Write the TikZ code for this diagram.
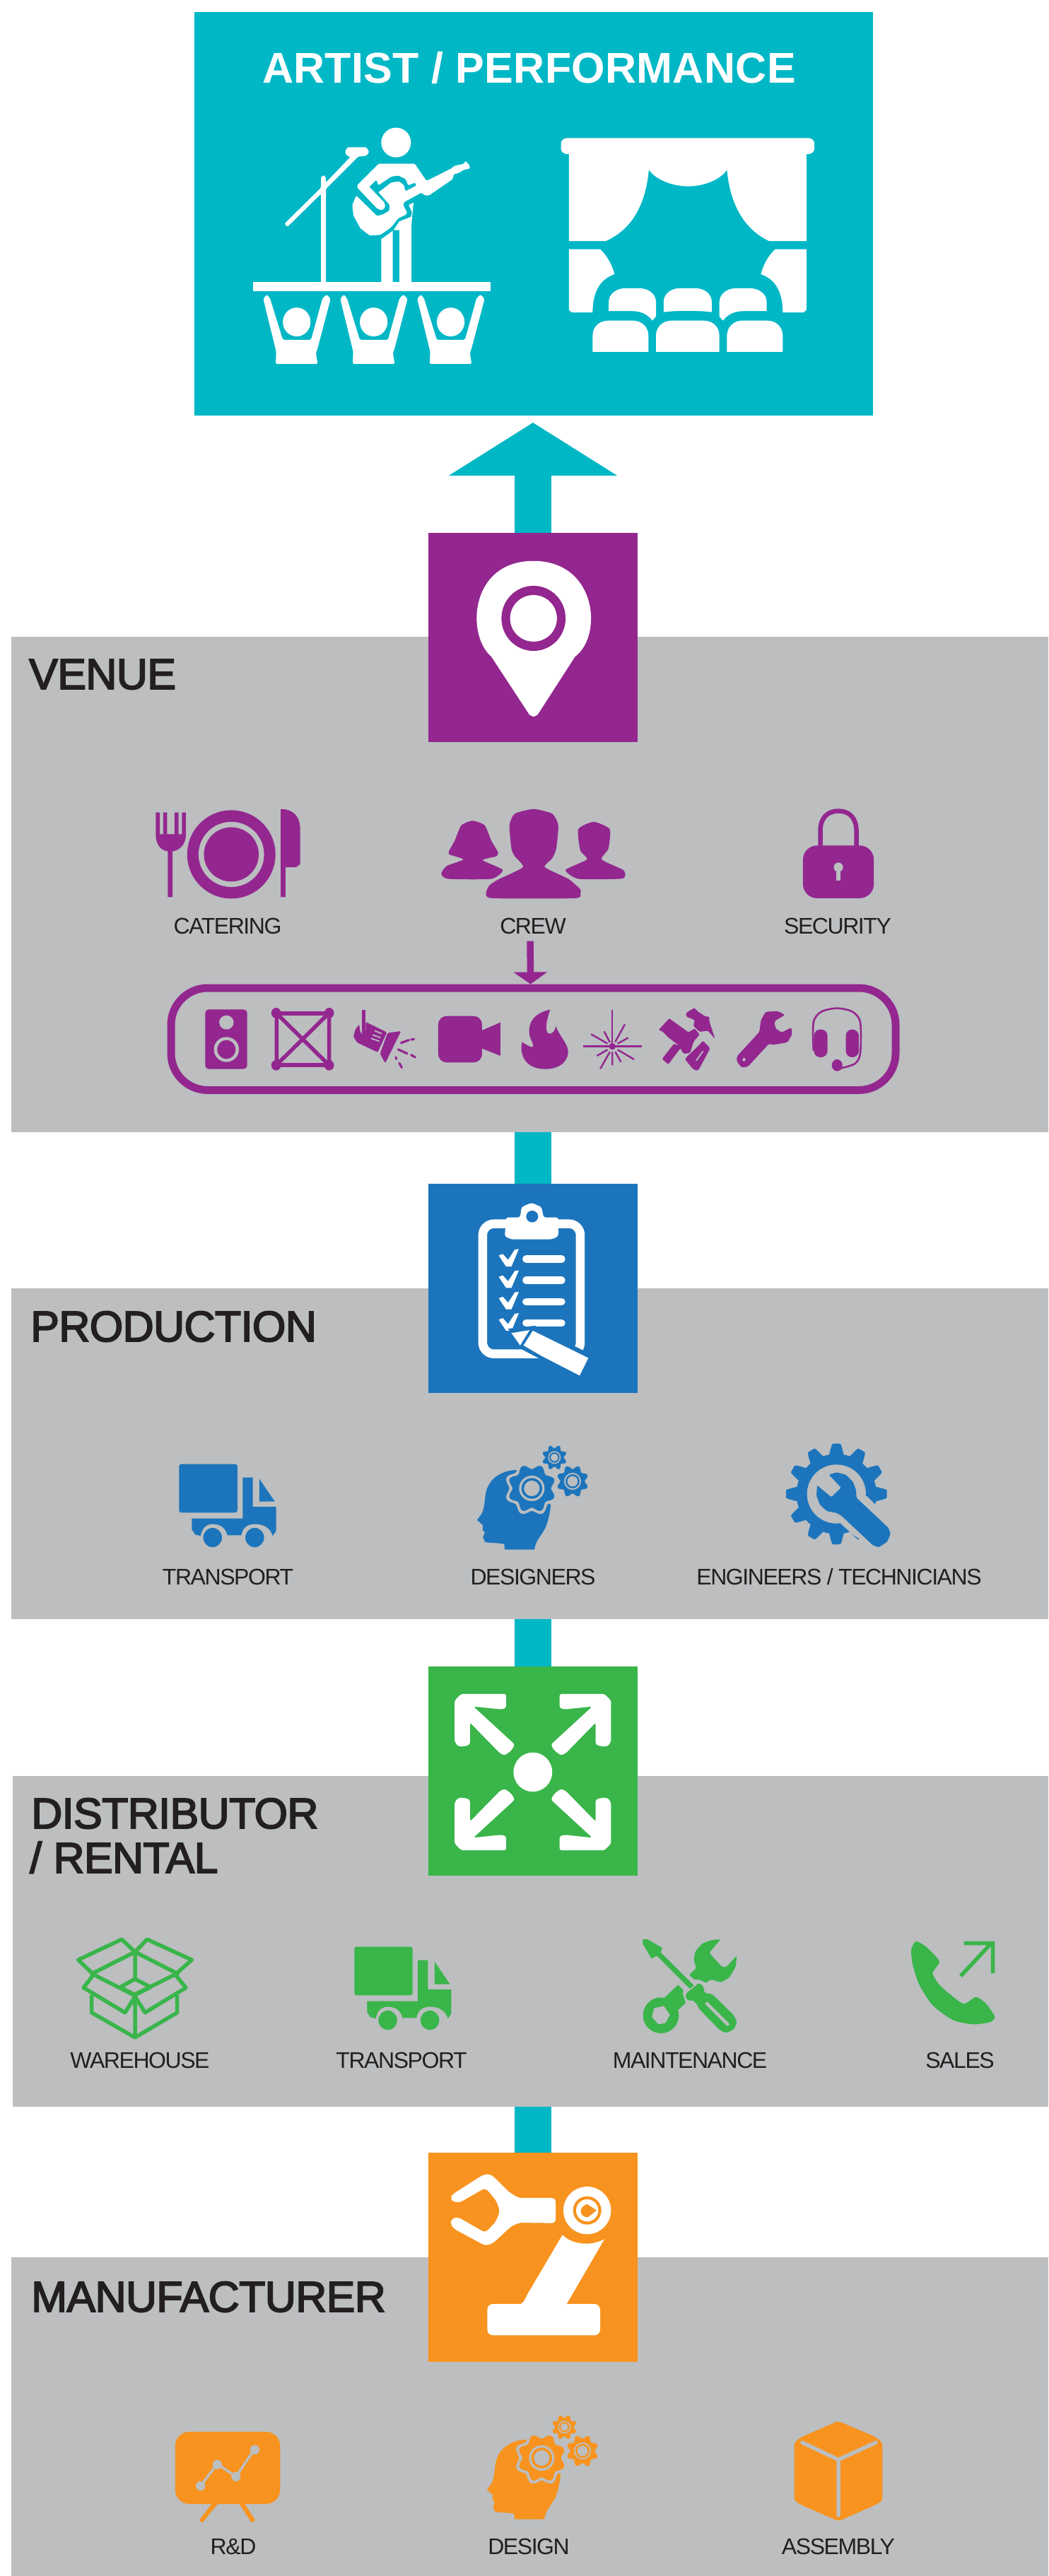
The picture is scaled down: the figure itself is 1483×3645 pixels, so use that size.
\documentclass[tikz,border=0pt]{standalone}
\usepackage{fontspec}
\usetikzlibrary{arrows.meta}
\setmainfont{Liberation Sans}
\newfontfamily\titlefont[LetterSpace=0.55]{Liberation Sans Bold}
\newfontfamily\headfont[LetterSpace=-1,FakeBold=3]{Liberation Sans}
\newfontfamily\labfont[LetterSpace=-4.5]{Liberation Sans}
\definecolor{teal}{HTML}{00B7C6}
\definecolor{purp}{HTML}{93278F}
\definecolor{blu}{HTML}{1C75BC}
\definecolor{grn}{HTML}{39B54A}
\definecolor{org}{HTML}{F7931E}
\definecolor{panel}{HTML}{BCBEC0}
\definecolor{ink}{HTML}{231F20}
\tikzset{
  panelbox/.style={fill=panel,inner sep=0pt,outer sep=0pt,minimum width=1467pt},
  keybox/.style={fill=#1,inner sep=0pt,outer sep=0pt,minimum width=296pt,minimum height=296pt},
  conn/.style={draw=teal,line width=52pt},
  headtxt/.style={font=\headfont\fontsize{61}{61}\selectfont,text=ink,anchor=base west,inner sep=0pt},
  labtxt/.style={font=\labfont\fontsize{32}{32}\selectfont,text=ink,anchor=base,inner sep=0pt},
  z1/.style={shift={(260,0)},xscale=.6314,yscale=.4974},
  z2/.style={shift={(0,740)},xscale=.9458,yscale=.5485},
  z3/.style={shift={(0,1650)},xscale=.9458,yscale=.4145},
  z4/.style={shift={(0,2340)},xscale=.9458,yscale=.4145},
  z5/.style={shift={(0,3020)},xscale=.9458,yscale=.3986},
  z6/.style={shift={(220,1380)},xscale=.6824,yscale=.3333},
  third/.style={shift={#1},scale=.33333},
}
% gear outline as polar plot: cx cy R0 A teeth phase colour sharpness
\newcommand\wavegear[8]{%
  \fill[#7] plot[domain=0:360,samples=241,variable=\t]
   ({#1+(#3+#4*max(-1,min(1,#8*cos(#5*(\t-#6)))))*cos(\t)},{#2+(#3+#4*max(-1,min(1,#8*cos(#5*(\t-#6)))))*sin(\t)}) -- cycle;}
\newcommand\headicon[3]{%
  \begin{scope}[third={(660+#1,2030+#2)}]
  \fill[#3] (210,150) .. controls (150,152) and (100,185) .. (85,235) .. controls (75,270) and (80,300) .. (65,335) -- (45,362) -- (70,385) -- (68,405) -- (78,415) -- (70,435) -- (78,455) .. controls (100,462) and (140,458) .. (160,465) -- (162,488) -- (288,488) .. controls (292,450) and (320,425) .. (335,395) .. controls (348,360) and (355,330) .. (357,298) -- (277,228) -- cycle;
  \wavegear{277}{228}{106}{10}{8}{22.5}{panel}{1}
  \wavegear{277}{228}{92}{10}{8}{22.5}{#3}{1}
  \fill[panel] (277,228) circle [radius=54];
  \fill[#3] (277,228) circle [radius=44];
  \fill[panel] (277,228) circle [radius=33];
  \wavegear{373}{97}{46}{7}{8}{22.5}{#3}{1}
  \fill[panel] (373,97) circle [radius=27];
  \fill[#3] (373,97) circle [radius=22];
  \fill[panel] (373,97) circle [radius=16];
  \wavegear{450}{198}{60}{8}{8}{22.5}{#3}{1}
  \fill[panel] (450,198) circle [radius=36];
  \fill[#3] (450,198) circle [radius=30];
  \fill[panel] (450,198) circle [radius=22];
  \end{scope}}
\newcommand\truckicon[3]{%
  \begin{scope}[shift={(#1,#2)}]
  \fill[#3,rounded corners=3pt] (268,1017) rectangle (355,1183);
  \fill[#3] (388,1068) -- (411,1145) -- (388,1145) -- cycle;
  \fill[#3] (287,1203) -- (363,1203) -- (363,1063) -- (378,1063) -- (378,1163) -- (413,1163) -- (413,1245) -- (408,1262)
     .. controls (404,1235) and (395,1222) .. (381,1222) .. controls (368,1222) and (362,1240) .. (361,1260) -- (340,1260)
     .. controls (338,1240) and (332,1222) .. (318,1222) .. controls (305,1222) and (302,1245) .. (300,1262) -- (292,1258) -- (287,1240) -- cycle;
  \fill[#3] (318,1268) ellipse [x radius=14, y radius=33];
  \fill[#3] (381,1268) ellipse [x radius=14, y radius=33];
  \end{scope}}
\begin{document}
\begin{tikzpicture}[x=1pt,y=-1pt]
\useasboundingbox (0,0) rectangle (1483,3645);
\fill[white] (0,0) rectangle (1483,3645);
% panels
\node[panelbox,minimum height=701pt] (venuepanel) at (749.5,1251.5) {};
\node[panelbox,minimum height=468.5pt] (prodpanel) at (749.5,2056.75) {};
\node[panelbox,minimum height=468.5pt,minimum width=1465pt] (distpanel) at (750.5,2746.75) {};
\node[panelbox,minimum height=451pt] (mfrpanel) at (749.5,3419.5) {};
% top box
\node[fill=teal,inner sep=0pt,outer sep=0pt,minimum width=960pt,minimum height=571pt] (artist) at (755,302.5) {};
% key boxes
\node[keybox=purp] (venuebox) at (754,902) {};
\node[keybox=blu] (prodbox) at (754,1822.5) {};
\node[keybox=grn] (distbox) at (754,2505.5) {};
\node[keybox=org] (mfrbox) at (754,3193.5) {};
% connectors
\draw[conn,shorten >=10pt,-{Triangle[width=235pt,length=75pt]}] (venuebox.north) -- (venuebox.north |- artist.south);
\draw[conn] (prodbox.north) -- (prodbox.north |- venuepanel.south);
\draw[conn] (distbox.north) -- (distbox.north |- prodpanel.south);
\draw[conn] (mfrbox.north) -- (mfrbox.north |- distpanel.south);
% texts
\node[font=\titlefont\fontsize{61}{61}\selectfont,text=white,anchor=base,inner sep=0pt] (titletxt) at (748.5,118) {ARTIST / PERFORMANCE};
\node[headtxt] (hvenue) at (41,975) {VENUE};
\node[headtxt] (hprod) at (43,1898) {PRODUCTION};
\node[headtxt] (hdist) at (44,2587) {DISTRIBUTOR};
\node[headtxt] (hrent) at (42,2650) {/ RENTAL};
\node[headtxt] (hmfr) at (44,3271) {MANUFACTURER};
\node[labtxt] (lcater) at (322,1321) {CATERING};
\node[labtxt] (lcrew) at (754,1321) {CREW};
\node[labtxt] (lsec) at (1185,1321) {SECURITY};
\node[labtxt] (ltrans) at (322.5,2242) {TRANSPORT};
\node[labtxt] (ldesr) at (754,2242) {DESIGNERS};
\node[labtxt] (leng) at (1187,2242) {ENGINEERS / TECHNICIANS};
\node[labtxt] (lware) at (198,2926) {WAREHOUSE};
\node[labtxt] (ltrans2) at (568,2926) {TRANSPORT};
\node[labtxt] (lmaint) at (976,2926) {MAINTENANCE};
\node[labtxt] (lsales) at (1358,2926) {SALES};
\node[labtxt] (lrd) at (330,3614) {R\&D};
\node[labtxt] (ldesign) at (748,3614) {DESIGN};
\node[labtxt] (lassy) at (1186,3614) {ASSEMBLY};
% crew capsule and arrow
\node[draw=purp,line width=11pt,rounded corners=52pt,inner sep=0pt,outer sep=0pt,minimum width=1025pt,minimum height=144.5pt] (capsule) at (754.5,1470.25) {};
\coordinate (capin) at ([yshift=5.5pt]capsule.north);
\draw[purp,line width=9.5pt,shorten <=10pt,-{Triangle[width=47pt,length=17pt]}] ([xshift=-4pt]lcrew.south) -- ([xshift=-4pt]capin);

% ---------- artist icons
\begin{scope}[third={(390,175)}]
\fill[white] (511,80) circle [radius=63];
\fill[white,rounded corners=1.5pt] (37,425)--(192,272)--(192,228)--(202,218)--(213,228)--(213,250)--(318,140)--(303,137)--(294,120)--(305,100)--(385,100)--(397,120)--(385,136)--(350,140)--(213,277)--(213,675)--(192,675)--(192,298)--(50,438)--cycle;
\fill[white,rounded corners=1.5pt] (437,170)--(590,170)--(640,243)--(750,188)--(755,180)--(800,170)--(805,157)--(825,180)--(822,192)--(800,195)--(775,210)--(755,215)--(752,235)--(650,305)--(635,305)--(618,293)--(545,333)--(541,345)--(558,378)--(555,385)--(520,402)--(490,440)--(445,472)--(400,475)--(360,445)--(330,390)--(325,345)--(342,305)--(430,392)--(455,385)--(482,370)--(484,345)--(435,290)--(445,285)--(490,250)--(525,245)--(545,262)--(550,287)--(598,262)--(592,250)--(562,262)--(552,235)--(520,220)--(490,225)--(435,262)--(428,238)--(397,268)--(462,335)--(465,355)--(450,368)--(430,360)--(347,272)--(345,262)--cycle;
\fill[white] (448,675)--(448,490)--(497,455)--(497,675)--cycle;
\fill[white] (500,452)--(525,452)--(525,675)--(576,675)--(576,430)--(585,335)--(565,345)--(578,375)--(575,395)--(525,415)--cycle;
\end{scope}
\begin{scope}[z1]
\fill[white] (155,802) rectangle (687,829);
\foreach \dx in {0,172.5,345}{
  \fill[white,rounded corners=2pt] ({178+\dx},850)--({186+\dx},838)--({193+\dx},848)--({222+\dx},967)--({285+\dx},967)--({311+\dx},848)--({320+\dx},838)--({329+\dx},850)--({300+\dx},990)--({296+\dx},1005)--({300+\dx},1035)--({206+\dx},1035)--({207+\dx},1000)--cycle;
  \fill[white] ({253+\dx},916) ellipse [x radius=31, y radius=41];
}
% theatre
\fill[white,rounded corners=8pt] (845,393) rectangle (1413,438);
\fill[white] (863,430)--(1395,430)--(1395,686)--(1312,686) .. controls (1260,655) and (1225,590) .. (1217,483) .. controls (1200,515) and (1160,530) .. (1130,530) .. controls (1100,530) and (1060,515) .. (1042,483) .. controls (1034,590) and (1000,655) .. (945,686) -- (863,686) -- cycle;
\fill[white] (863,709)--(933,709) .. controls (950,730) and (960,755) .. (965,780) .. controls (930,795) and (916,835) .. (916,889) -- (870,889) -- (863,882) -- cycle;
\fill[white] (1395,709)--(1325,709) .. controls (1308,730) and (1298,755) .. (1293,780) .. controls (1328,795) and (1342,835) .. (1342,889) -- (1388,889) -- (1395,882) -- cycle;
\fill[white] (952,885)--(952,860) .. controls (952,835) and (970,820) .. (990,820) -- (1020,820) .. controls (1040,820) and (1058,835) .. (1058,860) -- (1058,900) -- (1050,912) .. controls (1040,895) and (1025,885) .. (1005,885) -- cycle;
\fill[white] (1075,888)--(1075,860) .. controls (1075,835) and (1092,820) .. (1112,820) -- (1146,820) .. controls (1166,820) and (1183,835) .. (1183,860) -- (1183,888) .. controls (1160,883) and (1098,883) .. (1075,888) -- cycle;
\fill[white] (1306,885)--(1306,860) .. controls (1306,835) and (1288,820) .. (1268,820) -- (1238,820) .. controls (1218,820) and (1200,835) .. (1200,860) -- (1200,900) -- (1208,912) .. controls (1218,895) and (1233,885) .. (1253,885) -- cycle;
\foreach \xa/\xb in {916/1041,1058/1200,1217/1342}{
  \fill[white] (\xa,1001)--(\xa,955) .. controls (\xa,930) and ({\xa+15},912) .. ({\xa+35},912) -- ({\xb-35},912) .. controls ({\xb-15},912) and (\xb,930) .. (\xb,955) -- (\xb,1001) -- cycle;
}
\end{scope}

% ---------- venue icons
\begin{scope}[z2]
\fill[white] (798,98) .. controls (735,98) and (713,180) .. (713,245) .. controls (713,290) and (722,325) .. (735,345) -- (792,495) -- (798,500) -- (804,495) -- (860,345) .. controls (875,325) and (884,290) .. (884,245) .. controls (884,180) and (860,98) .. (798,98) -- cycle;
\fill[purp] (798,246) ellipse [x radius=48, y radius=84];
\fill[white] (798,246) ellipse [x radius=35, y radius=60];
% catering
\fill[purp] (233,747)--(239,747)--(239,803)--(244,803)--(244,747)--(250,747)--(250,803)--(261,803)--(261,747)--(267,747)--(267,803)--(272,803)--(272,747)--(278,747)--(278,805) .. controls (278,830) and (268,845) .. (258,847) -- (258,965) -- (251,965) -- (251,847) .. controls (241,845) and (233,830) .. (233,805) -- cycle;
\fill[purp] (346,855) ellipse [x radius=66, y radius=114];
\fill[panel] (346,855) ellipse [x radius=49, y radius=84];
\fill[purp] (346,855) ellipse [x radius=41, y radius=70];
\fill[purp] (420,738) .. controls (440,738) and (449,760) .. (449,790) -- (449,880) -- (443,888) -- (427,888) -- (427,965) -- (420,965) -- cycle;
% crew
\fill[purp] plot[smooth cycle,tension=.35] coordinates {(727,955)(732,935)(745,920)(782,888)(770,860)(765,840)(762,780)(770,750)(798,738)(826,750)(835,780)(832,840)(826,865)(815,888)(850,918)(868,945)(868,955)(860,968)(737,968)};
\fill[purp] plot[smooth cycle,tension=.35] coordinates {(660,905)(668,885)(693,868)(672,855)(672,845)(680,820)(690,780)(707,768)(725,780)(735,820)(745,850)(742,860)(722,870)(752,895)(735,918)(670,918)};
\fill[purp] plot[smooth cycle,tension=.35] coordinates {(846,895)(878,868)(868,845)(865,790)(888,771)(912,790)(910,840)(900,868)(932,895)(935,910)(928,918)(865,918)};
% lock
\draw[purp,line width=6.5pt] (1227,835) -- (1227,795) .. controls (1227,760) and (1238,743) .. (1254,743) .. controls (1270,743) and (1281,760) .. (1281,795) -- (1281,835);
\fill[purp,rounded corners=20pt] (1201,832) rectangle (1307,968);
\fill[panel] (1254,888) ellipse [x radius=7, y radius=12];
\fill[panel] (1251,893) rectangle (1257,922);
\end{scope}

% ---------- capsule icons
\begin{scope}[third={(490,1410)}]
\fill[purp,rounded corners=1.5pt] (82,108)--(172,152)--(133,237)--(45,195)--(30,170)--(38,140)--(55,118)--(58,150)--(68,160)--(82,150)--cycle;
\fill[purp] (67,57) rectangle (81,155);
\draw[panel,line width=1.7pt] (120,145)--(150,158) (112,163)--(145,175) (105,178)--(140,190);
\fill[purp,rounded corners=1.5pt] (175,155)--(232,147)--(165,283)--(143,243)--cycle;
\draw[purp,line width=3.2pt,line cap=round] (232,197)--(265,185) (275,183)--(287,181) (220,225)--(258,242) (275,248)--(292,258) (210,258)--(212,265) (225,283)--(235,302);
\end{scope}
\begin{scope}[z6]
\fill[purp,rounded corners=5pt] (103,145) rectangle (190,398);
\fill[panel] (147,200) ellipse [x radius=15, y radius=30];
\fill[panel] (147,315) ellipse [x radius=26, y radius=53];
\fill[purp] (147,315) ellipse [x radius=19, y radius=40];
% truss
\draw[purp,line width=6pt] (250,161) -- (360,161) (250,382) -- (360,382);
\draw[purp,line width=5.5pt] (251,160) -- (251,382) (360,160) -- (360,382) (255,170) -- (355,372) (355,170) -- (255,372);
\foreach \xx/\yy in {250/160,360/160,250/382,360/382}{\fill[purp] (\xx,\yy) ellipse [x radius=10, y radius=22];}
% camera
\fill[purp,rounded corners=12pt] (586,173) rectangle (677,370);
\fill[purp] (670,240)--(715,200)--(715,342)--(670,305)--cycle;
% flame
\fill[purp] (818,146) .. controls (785,160) and (772,200) .. (775,250) .. controls (777,275) and (785,290) .. (782,305) .. controls (775,305) and (765,290) .. (760,283) .. controls (755,320) and (760,398) .. (808,398) .. controls (845,398) and (858,350) .. (855,315) .. controls (852,285) and (835,250) .. (830,215) .. controls (828,240) and (820,255) .. (813,245) .. controls (805,220) and (815,170) .. (818,146) -- cycle;
% laser
\draw[purp,line width=1.8pt] (947,148)--(947,300);
\draw[purp,line width=3pt] (887,302)--(1008,302);
\fill[purp] (947,302) ellipse [x radius=7, y radius=14];
\draw[purp,line width=2.4pt] (903,250)--(937,290) (980,265)--(958,290) (915,342)--(937,316) (992,357)--(958,316) (973,208)--(953,283) (930,238)--(942,285) (922,397)--(942,325) (965,368)--(953,325) (947,325)--(947,382);
% tools
\fill[purp,rounded corners=1.5pt] (1043,232)--(1065,183)--(1105,242)--(1118,226)--(1128,252)--(1116,280)--(1108,330)--(1095,333)--(1083,295)--(1062,262)--(1052,240)--cycle;
\fill[purp,rounded corners=1.5pt] (1075,290)--(1090,305)--(1063,378)--(1050,355)--cycle;
\fill[purp,rounded corners=1.5pt] (1117,138)--(1125,155)--(1140,175)--(1148,175)--(1148,195)--(1160,270)--(1145,235)--(1128,240)--(1115,215)--(1118,190)--(1100,175)--(1100,160)--cycle;
\fill[purp,rounded corners=2pt] (1135,278)--(1150,310)--(1125,405)--(1115,400)--(1097,355)--(1125,300)--cycle;
\draw[panel,line width=1.8pt] (1135,322)--(1121,362);
% wrench
\fill[purp,rounded corners=2pt] (1252,240)--(1255,190)--(1265,155)--(1290,152)--(1305,168)--(1283,195)--(1285,225)--(1298,243)--(1318,222)--(1320,250)--(1310,285)--(1280,295)--(1272,290)--(1228,388)--(1215,392)--(1205,365)--(1205,345)--cycle;
\fill[panel] (1220,358) ellipse [x radius=3, y radius=7];
% headset
\draw[purp,line width=2.6pt] plot[smooth,tension=.5] coordinates {(1364,320)(1364,200)(1380,155)(1413,140)(1445,155)(1461,200)(1461,330)(1450,375)(1420,395)};
\fill[purp,rounded corners=9pt] (1365,230) rectangle (1393,348);
\fill[purp,rounded corners=9pt] (1431,230) rectangle (1458,348);
\fill[purp] (1413,382) ellipse [x radius=11, y radius=25];
\end{scope}

% ---------- production icons
\begin{scope}[z3]
\draw[white,line width=12.5pt,rounded corners=16pt] (722,197) rectangle (868,641);
\fill[white,rounded corners=3pt] (757,175)--(778,175)--(780,140)--(795,125)--(810,140)--(813,175)--(835,175)--(835,240)--(825,250)--(765,250)--(755,240)--cycle;
\fill[blu] (796,172) ellipse [x radius=9, y radius=20];
\foreach \dy in {0,73,146,219}{
  \draw[white,line width=10.5pt,line cap=round] (787,{317+\dy}) -- (840,{317+\dy});
  \fill[white] (746,{305+\dy})--(752,{300+\dy})--(760,{320+\dy})--(770,{285+\dy})--(776,{283+\dy})--(765,{343+\dy})--(757,{343+\dy})--cycle;
}
\fill[blu] (760,555)--(800,545)--(890,650)--(870,720)--(805,655)--(780,625)--cycle;
\fill[white] (765,570)--(792,560)--(778,612)--cycle;
\fill[white] (797,562)--(880,655)--(867,715)--(810,648)--(783,612)--cycle;
\truckicon{0}{0}{blu}
\end{scope}
\headicon{0}{0}{blu}
% engineers gear
\begin{scope}[third={(1100,2030)}]
\wavegear{250}{252}{192}{22}{12}{90}{blu}{1.8}
\fill[panel] (250,252) circle [radius=125];
\fill[panel] (335,250)--(380,262)--(430,312)--(500,400)--(430,495)--(320,425)--(260,370)--(250,330)--cycle;
\fill[blu,rounded corners=1.5pt] (218,170)--(250,160)--(290,170)--(320,200)--(333,235)--(335,268)--(470,395)--(480,420)--(465,455)--(430,478)--(405,470)--(272,345)--(250,332)--(210,325)--(180,298)--(165,260)--(168,215)--(228,265)--(270,225)--cycle;
\end{scope}

% ---------- distributor icons
\begin{scope}[z4]
\fill[white] (797,404) ellipse [x radius=29, y radius=67];
\foreach \sx/\sy in {1/1,-1/1,1/-1,-1/-1}{
  \begin{scope}[shift={(797,404)},xscale=\sx,yscale=\sy]
   \fill[white,rounded corners=3pt] (-107,-267)--(-40,-267)--(-40,-219)--(-47,-214)--(-89,-224)--(-27,-94)--(-32,-74)--(-42,-57)--(-49,-64)--(-94,-169)--(-94,-94)--(-102,-88)--(-112,-88)--(-117,-104)--(-117,-244)--cycle;
  \end{scope}
}
% box
\draw[grn,line width=5.5pt,line join=round] (182,975)--(117,1045)--(140,1095)--(200,1165)--(262,1095)--(287,1045)--(220,975)--(202,1018)--cycle
 (202,1018)--(135,1095) (202,1018)--(268,1095) (202,1018)--(202,1110) (202,1110)--(180,1138)--(202,1165)--(225,1138)--cycle
 (140,1095)--(125,1140)--(187,1225)--(202,1170)--(217,1225)--(278,1140)--(262,1095)
 (137,1165)--(137,1225)--(202,1310)--(265,1225)--(265,1165) (202,1170)--(202,1310);
\truckicon{262}{-17}{grn}
% phone
\fill[grn] plot[smooth cycle,tension=.4] coordinates {(1370,982)(1385,1000)(1405,1050)(1395,1090)(1405,1130)(1425,1170)(1442,1195)(1460,1172)(1475,1195)(1488,1240)(1480,1258)(1455,1265)(1425,1250)(1395,1200)(1375,1130)(1365,1060)(1363,1010)};
\draw[grn,line width=5.5pt] (1442,988)--(1485,988)--(1485,1090) (1482,990)--(1437,1100);
\end{scope}
% maintenance
\begin{scope}[third={(890,2730)}]
\fill[grn] (58,42)--(78,42)--(140,78)--(134,98)--(275,238)--(258,252)--(118,112)--(95,124)--(58,62)--cycle;
\fill[grn,rounded corners=3pt] (298,226)--(320,250)--(315,262)--(325,272)--(345,272)--(360,282)--(445,365)--(458,395)--(445,425)--(410,440)--(385,428)--(295,335)--(290,320)--(270,300)--(250,303)--(238,285)--(245,268)--(270,250)--cycle;
\draw[panel,line width=4.5pt,line cap=round] (330,315)--(418,403);
\fill[grn,rounded corners=2pt] (388,42)--(340,100)--(395,160)--(412,160)--(457,112)--(452,160)--(425,205)--(390,225)--(345,212)--(328,228)--(295,212)--(280,215)--(255,193)--(285,165)--(275,130)--(280,95)--(310,60)--(350,45)--cycle;
\fill[grn] (135,365) circle [radius=76];
\fill[grn] (150,290)--(208,235)--(230,258)--(228,275)--(240,312)--(205,345)--(170,300)--cycle;
\fill[panel] (147,325)--(173,362)--(155,397)--(125,403)--(97,373)--(105,335)--cycle;
\end{scope}

% ---------- manufacturer icons
\begin{scope}[third={(620,3060)}]
\fill[white,rounded corners=5pt] (60,135)--(190,52)--(215,48)--(235,60)--(300,125)--(340,150)--(498,150)--(498,257)--(345,255)--(310,270)--(235,340)--(205,353)--(185,345)--(65,280)--(50,258)--(60,235)--(85,232)--(200,298)--(245,250)--(262,205)--(245,160)--(200,107)--(90,170)--(60,165)--(52,150)--cycle;
\fill[white] (632,203) circle [radius=101];
\fill[org] (632,203) circle [radius=60];
\fill[white] (632,203) circle [radius=47];
\fill[org] (632,176)--(672,203)--(635,232) .. controls (615,232) and (605,220) .. (605,205) .. controls (605,190) and (620,180) .. (632,176) -- cycle;
\fill[white] (527,307) .. controls (570,350) and (650,355) .. (705,325) -- (543,604) -- (340,604) .. controls (360,600) and (370,580) .. (375,565) -- cycle;
\fill[white,rounded corners=8pt] (208,600) rectangle (687,733);
\end{scope}
\begin{scope}[z5]
% r&d
\fill[org,rounded corners=20pt] (262,1056) rectangle (419,1312);
\fill[org] (318,1308)--(298,1370)--(303,1378)--(327,1308)--cycle;
\fill[org] (357,1308)--(376,1378)--(382,1370)--(365,1308)--cycle;
\draw[panel,line width=3.5pt] (300,1248)--(325,1170)--(353,1215)--(380,1120);
\foreach \xx/\yy in {300/1248,325/1172,353/1215,381/1120}{\fill[panel] (\xx,\yy) ellipse [x radius=7, y radius=17];}
% cube
\fill[org,rounded corners=4pt] (1254,1018)--(1310,1075)--(1320,1095)--(1320,1300)--(1310,1315)--(1254,1373)--(1198,1315)--(1188,1300)--(1188,1095)--(1198,1075)--cycle;
\draw[panel,line width=5.5pt,line cap=round,line join=round] (1200,1094)--(1254,1155)--(1310,1094) (1254,1155)--(1254,1352);
\end{scope}
\headicon{14}{1372}{org}
\end{tikzpicture}
\end{document}
